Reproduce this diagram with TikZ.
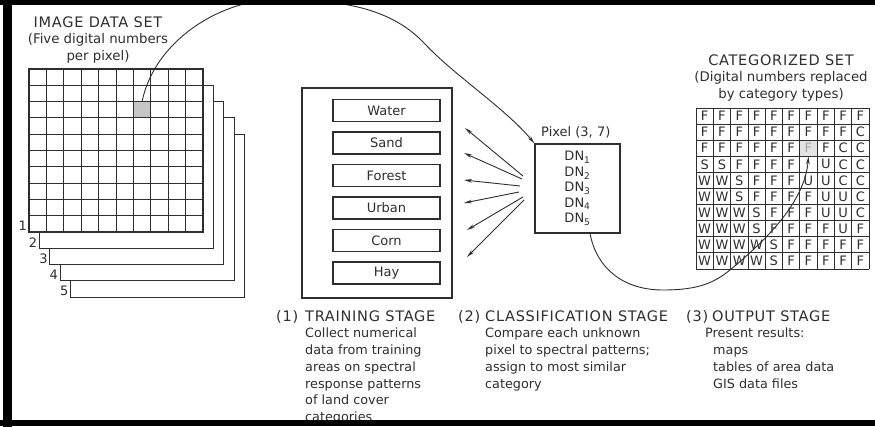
\documentclass[tikz,border=0pt]{standalone}
\usepackage{fontspec}
\setmainfont{DejaVu Sans}
\newfontfamily\capsfont[LetterSpace=5]{DejaVu Sans}
\usetikzlibrary{arrows.meta}
\definecolor{ink}{gray}{0.18}
\newcommand{\stagehead}[1]{{\fontsize{14.5}{16.7}\capsfont #1}}

\begin{document}
\begin{tikzpicture}[
    x=1pt, y=-1pt,
    inner sep=0pt,
    every node/.style={text=ink},
	layer/.style={
	  draw=ink,
	  fill=white,
	  line width=1.2pt
	},
	gridline/.style={
	  draw=ink,
	  line width=0.8pt
	},
	frame/.style={
	  rectangle,
	  draw=ink,
	  line width=1.1pt
	},
	cls/.style={
	  rectangle,
	  draw=ink,
	  line width=1.1pt,
	  minimum width=107pt,
	  minimum height=22pt,
	  font=\fontsize{13}{15}\selectfont
	},
	letter/.style={font=\fontsize{13}{15}\selectfont},
	heading/.style={anchor=north, align=center, font=\fontsize{13.3}{16.3}\selectfont},
	stage/.style={anchor=north west, align=left, font=\fontsize{12.8}{16.7}\selectfont},
 	line/.style={draw=ink, line width=0.9pt, -{Stealth[length=8pt,width=3.6pt]}}
	]
	\useasboundingbox (0,0) rectangle (875,427);
	% image data set: five bands, back one first
	\foreach \k in {5,4,...,1}{
	  \draw[layer] ({29+10.4*(\k-1)},{69+16.3*(\k-1)}) rectangle +(174,163);
	  \node at ({27+10.4*(\k-1)},{231+16.3*(\k-1)}) [anchor=south east, letter] (band\k) {\k};
	}
	\node at (142.1, 109.75) [minimum width=17.4pt, minimum height=16.3pt, fill=gray!45] (pixsel) {};
	\foreach \i in {1,...,9}{
	  \draw[gridline] ({29+17.4*\i},69) -- +(0,163);
	  \draw[gridline] (29,{69+16.3*\i}) -- +(174,0);
	}
	\node at (98, 16.7) [heading] (imgtitle) {\stagehead{IMAGE DATA SET}\\(Five digital numbers\\per pixel)};
	% training stage
	\node at (377, 193) [frame, minimum width=150pt, minimum height=210pt] (training) {};
	\node at (386.5, 110.5) [cls] (water) {Water};
	\node at (386.5, 143) [cls] (sand) {Sand};
	\node at (386.5, 175.5) [cls] (forest) {Forest};
	\node at (386.5, 208) [cls] (urban) {Urban};
	\node at (386.5, 240.5) [cls] (corn) {Corn};
	\node at (386.5, 273) [cls] (hay) {Hay};
	% unknown pixel
	\node at (541, 132) [anchor=west, letter] (pixlabel) {Pixel (3, 7)};
	\node at (577.5, 188.5) [frame, minimum width=85pt, minimum height=89pt, align=center,
	  font=\fontsize{13}{15.5}\selectfont] (pixbox)
	  {DN\textsubscript{1}\\DN\textsubscript{2}\\DN\textsubscript{3}\\DN\textsubscript{4}\\DN\textsubscript{5}};
	\foreach \sx/\sy/\tx/\ty [count=\n] in {523/176/465/128, 522/179/464/153, 520/186/464/180,
	    519/192/464/203, 523/197/467/230, 524/200/467/257}{
	  \coordinate (fan\n) at (\sx,\sy);
	  \coordinate (tip\n) at (\tx,\ty);
	  \path[line] (fan\n) -- (tip\n);
	}
	% categorized set
	\node at (808.45, 148.25) [minimum width=17.3pt, minimum height=16.1pt, fill=gray!22, text=gray!70, letter] (catsel) {F};
	\foreach \letters [count=\r] in {{F,F,F,F,F,F,F,F,F,F},{F,F,F,F,F,F,F,F,F,C},{F,F,F,F,F,F,{},F,C,C},
	    {S,S,F,F,F,F,{},U,C,C},{W,W,S,F,F,F,U,U,C,C},{W,W,S,F,F,F,F,U,U,C},{W,W,W,S,F,F,F,U,U,C},
	    {W,W,W,S,F,F,F,F,U,F},{W,W,W,W,S,F,F,F,F,F},{W,W,W,W,S,F,F,F,F,F}}{
	  \foreach \c [count=\k] in \letters
	    \node at ({696+17.3*(\k-0.5)},{108+16.1*(\r-0.5)}) [letter] {\c};
	}
	\foreach \i in {0,...,10}{
	  \draw[gridline] ({696+17.3*\i},108) -- +(0,161);
	  \draw[gridline] (696,{108+16.1*\i}) -- +(173,0);
	}
	\node at (781, 54.7) [heading] (cattitle) {\stagehead{CATEGORIZED SET}\\(Digital numbers replaced\\by category types)};
	% connectors
	\coordinate (crest) at (270, 0);
	\coordinate (bend) at (425, 44);
	\coordinate (low) at (663, 290);
	\coordinate (entry) at (730, 270);
	\path[line] (pixsel.north) .. controls (155,40) and (220,2) .. (crest)
	  .. controls (350,-2) and (395,12) .. (bend)
	  .. controls (455,76) and (505,108) .. (pixbox.north west);
	\path[line] ([xshift=12.5pt]pixbox.south) .. controls (597,270) and (625,290) .. (low)
	  .. controls (700,290) and (715,282) .. (entry)
	  .. controls (770,237) and (805,200) .. (catsel.south);
	% stage texts
	\node at (276, 310) [stage] (stage1) {\stagehead{\makebox[29pt][l]{(1)}TRAINING STAGE}\\
	  \hspace*{29pt}Collect numerical\\\hspace*{29pt}data from training\\\hspace*{29pt}areas on spectral\\
	  \hspace*{29pt}response patterns\\\hspace*{29pt}of land cover\\\hspace*{29pt}categories};
	\node at (458, 310) [stage] (stage2) {\stagehead{\makebox[27pt][l]{(2)}CLASSIFICATION STAGE}\\
	  \hspace*{27pt}Compare each unknown\\\hspace*{27pt}pixel to spectral patterns;\\
	  \hspace*{27pt}assign to most similar\\\hspace*{27pt}category};
	\node at (686, 310) [stage] (stage3) {\stagehead{\makebox[26pt][l]{(3)}OUTPUT STAGE}\\
	  \hspace*{19pt}Present results:\\\hspace*{27pt}maps\\\hspace*{27pt}tables of area data\\
	  \hspace*{27pt}GIS data files};
	% black frame
	\fill (3,0) rectangle (12,427);
	\fill (0,0) rectangle (875,5);
	\fill (0,420) rectangle (875,426);
  \end{tikzpicture}
\end{document}
